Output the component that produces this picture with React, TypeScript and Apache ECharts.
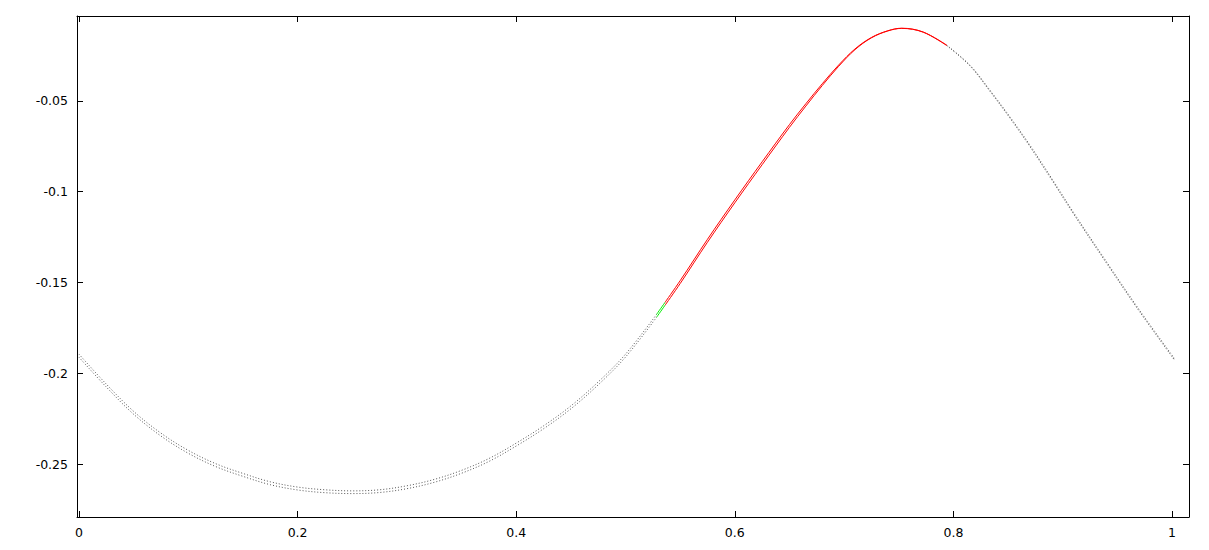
import React, { useEffect, useRef } from "react";
import * as echarts from "echarts";

// Tick labels
const xTicks = [0, 0.2, 0.4, 0.6, 0.8, 1];
const yTicks = [-0.25, -0.2, -0.15, -0.1, -0.05];

// Segment 1 (black dots, left part)
const seg1X = [0, 0.025, 0.05, 0.075, 0.1, 0.125, 0.15, 0.175, 0.2, 0.225, 0.25, 0.275, 0.3, 0.325, 0.35, 0.375, 0.4, 0.425, 0.45, 0.475, 0.5, 0.5285];
const seg1Upper = [-0.1895, -0.206, -0.221, -0.233, -0.2425, -0.2498, -0.2552, -0.2598, -0.2627, -0.2642, -0.2648, -0.2642, -0.262, -0.2585, -0.2535, -0.247, -0.2385, -0.229, -0.218, -0.2048, -0.1895, -0.1675];
const seg1Lower = [-0.1912, -0.2076, -0.2226, -0.2346, -0.2441, -0.2514, -0.2568, -0.2614, -0.2643, -0.2658, -0.2663, -0.2657, -0.2636, -0.2601, -0.2551, -0.2486, -0.2401, -0.2306, -0.2196, -0.2064, -0.1911, -0.1691];

// Segment 2 (green)
const seg2X = [0.5285, 0.5361];
const seg2Upper = [-0.1675, -0.161];
const seg2Lower = [-0.1691, -0.1626];

// Segment 3 (red)
const seg3X = [0.5361, 0.55, 0.575, 0.6, 0.625, 0.65, 0.665, 0.68, 0.695, 0.71, 0.725, 0.74, 0.7527, 0.7724, 0.7938];
const seg3Upper = [-0.161, -0.149, -0.1262, -0.1045, -0.0835, -0.063, -0.0515, -0.0405, -0.0302, -0.0213, -0.015, -0.0113, -0.0099, -0.012, -0.0192];
const seg3Lower = [-0.1626, -0.1506, -0.1278, -0.1061, -0.0851, -0.0645, -0.0528, -0.0415, -0.0309, -0.0217, -0.0152, -0.0114, -0.01, -0.0121, -0.0194];

// Segment 4 (black dots, right part)
const seg4X = [0.7938, 0.8152, 0.8335, 0.8518, 0.8701, 0.8914, 0.91, 0.94, 0.97, 1.002];
const seg4Upper = [-0.0192, -0.0303, -0.0441, -0.0588, -0.0744, -0.094, -0.1115, -0.1385, -0.165, -0.1917];
const seg4Lower = [-0.0194, -0.0307, -0.0447, -0.0595, -0.0752, -0.0948, -0.1123, -0.1393, -0.1658, -0.1925];

const FONT = "DejaVu Sans";

function pairs(xs: number[], ys: number[]) {
  return xs.map((x, i) => [x, ys[i]]);
}

export default function App() {
  const ref = useRef<HTMLDivElement>(null);
  useEffect(() => {
    if (!ref.current) return;
    const chart = echarts.init(ref.current, null, { renderer: "svg" });
    const dotted = { color: "#555", width: 1, type: [1, 2] as any };
    const mk = (xs: number[], ys: number[], lineStyle: any) => ({
      type: "line",
      data: pairs(xs, ys),
      symbol: "none",
      smooth: 0.35,
      clip: false,
      lineStyle,
      silent: true,
    });
    const red = { color: "#ff0000", width: 1 };
    const green = { color: "#00ee00", width: 1 };
    const axisCommon = {
      type: "value",
      splitLine: { show: false },
      axisLine: { show: true, onZero: false, lineStyle: { color: "#000", width: 1 } },
    };
    chart.setOption({
      animation: false,
      backgroundColor: "#fff",
      grid: { left: 77, right: 20, top: 16, bottom: 33, containLabel: false },
      xAxis: [
        {
          ...axisCommon,
          position: "bottom",
          min: -0.00183,
          max: 1.01555,
          axisTick: { show: true, inside: true, length: 6, customValues: xTicks, lineStyle: { color: "#000" } },
          axisLabel: {
            show: true,
            customValues: xTicks,
            formatter: (v: number) => String(v),
            color: "#000",
            fontFamily: FONT,
            fontSize: 12.5,
            margin: 9,
          },
        },
        {
          ...axisCommon,
          position: "top",
          min: -0.00183,
          max: 1.01555,
          axisTick: { show: true, inside: true, length: 6, customValues: xTicks, lineStyle: { color: "#000" } },
          axisLabel: { show: false },
        },
      ],
      yAxis: [
        {
          ...axisCommon,
          position: "left",
          min: -0.2792,
          max: -0.00317,
          axisTick: { show: true, inside: true, length: 6, customValues: yTicks, lineStyle: { color: "#000" } },
          axisLabel: {
            show: true,
            customValues: yTicks,
            formatter: (v: number) => String(v),
            color: "#000",
            fontFamily: FONT,
            fontSize: 12.5,
            margin: 9,
          },
        },
        {
          ...axisCommon,
          position: "right",
          min: -0.2792,
          max: -0.00317,
          axisTick: { show: true, inside: true, length: 6, customValues: yTicks, lineStyle: { color: "#000" } },
          axisLabel: { show: false },
        },
      ],
      series: [
        mk(seg1X, seg1Upper, dotted),
        mk(seg1X, seg1Lower, dotted),
        mk(seg4X, seg4Upper, dotted),
        mk(seg4X, seg4Lower, dotted),
        mk(seg3X, seg3Upper, red),
        mk(seg3X, seg3Lower, red),
        mk(seg2X, seg2Upper, green),
        mk(seg2X, seg2Lower, green),
      ],
    });
    return () => chart.dispose();
  }, []);
  return (
    <div
      ref={ref}
      style={{ position: "absolute", left: 0, top: 0, width: 1209, height: 550 }}
    />
  );
}
